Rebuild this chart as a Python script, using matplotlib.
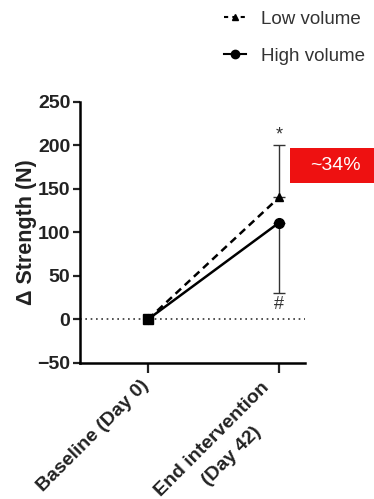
import matplotlib.pyplot as plt
from matplotlib.lines import Line2D
from matplotlib.transforms import ScaledTranslation

plt.rcParams['font.family'] = ['Liberation Sans', 'DejaVu Sans']

# data
timepoints = ["Baseline (Day 0)", "End intervention\n(Day 42)"]
low_volume = [0, 140]
high_volume = [0, 111]
low_sd_upper = [0, 60]
high_sd_lower = [0, 81]

fig = plt.figure(figsize=(3.74, 4.99), dpi=100)
ax = fig.add_axes([0.214, 0.273, 0.602, 0.523])

x = [0, 1]
ax.axhline(0, color='#333333', linestyle=(0, (1, 2.2)), linewidth=1.2, zorder=1)

# error bars: upper half for low volume, lower half for high volume
ax.errorbar([1], [low_volume[1]], yerr=[[0], [low_sd_upper[1]]], fmt='none',
            ecolor='#333333', elinewidth=1, capsize=4, capthick=1, zorder=2)
ax.errorbar([1], [high_volume[1]], yerr=[[high_sd_lower[1]], [0]], fmt='none',
            ecolor='#333333', elinewidth=1, capsize=4, capthick=1, zorder=2)

ax.plot(x, low_volume, color='black', linestyle=(0, (3, 2)), linewidth=1.8,
        marker='^', markersize=6, zorder=3)
ax.plot(x, high_volume, color='black', linestyle='-', linewidth=1.8,
        marker='o', markersize=7, zorder=3)
ax.plot([0], [0], marker='s', color='black', markersize=7, zorder=4)

ax.text(1, low_volume[1] + low_sd_upper[1] + 2, "*", ha='center', va='bottom',
        fontsize=13, color='#333333')
ax.text(1, high_volume[1] - high_sd_lower[1] - 3, "#", ha='center', va='top',
        fontsize=13, color='#333333')

ax.set_xlim(-0.52, 1.2)
ax.set_ylim(-50, 250)
ax.set_yticks([-50, 0, 50, 100, 150, 200, 250])
ax.set_yticklabels(["\u221250", "0", "50", "100", "150", "200", "250"])
ax.set_xticks(x)
ax.set_xticklabels([])

# rotated category labels, one text per line, centre offsets in pixels
line_offsets = [[(-55, -73)], [(-67, -77), (-47, -93)]]
for xi, lab, offs in zip(x, timepoints, line_offsets):
    for line, (dx, dy) in zip(lab.split("\n"), offs):
        off = ScaledTranslation(dx / 100, dy / 100, fig.dpi_scale_trans)
        ax.text(xi, 0, line, transform=ax.get_xaxis_transform() + off,
                rotation=45, ha='center', va='center', rotation_mode='anchor',
                fontweight='bold', fontsize=14, color='#222222')

for lab in ax.get_yticklabels():
    lab.set_fontweight('bold')
    lab.set_fontsize(14)
    lab.set_color('#222222')
ax.set_ylabel("\u0394 Strength (N)", fontweight='bold', fontsize=15.5,
              color='#222222')
ax.yaxis.set_label_coords(-0.192, 0.5)

for side in ['top', 'right']:
    ax.spines[side].set_visible(False)
for side in ['left', 'bottom']:
    ax.spines[side].set_linewidth(1.8)
ax.tick_params(axis='y', width=1.6, length=5, pad=2, color='#222222')
ax.tick_params(axis='x', width=1.6, length=7, pad=4, color='#222222')

# red annotation box
fig.patches.append(plt.Rectangle((290 / 374, 1 - 183 / 499), 84 / 374, 35 / 499,
                                 transform=fig.transFigure, facecolor='#ee1111',
                                 edgecolor='none', zorder=0))
fig.text(335 / 374, 1 - 166 / 499, "~34%", ha='center', va='center',
         color='white', fontsize=14)

handles = [Line2D([], [], color='black', linestyle=(0, (2, 2)), marker='^', markersize=5, linewidth=1.5),
           Line2D([], [], color='black', linestyle='-', marker='o', markersize=6, linewidth=1.5)]
fig.legend(handles, ["Low volume", "High volume"], loc='upper left',
           bbox_to_anchor=(0.553, 1.012), frameon=False, fontsize=13.5,
           handlelength=1.2, handletextpad=0.8, labelspacing=1.05,
           labelcolor='#333333')

fig.savefig("out.png", dpi=100)
